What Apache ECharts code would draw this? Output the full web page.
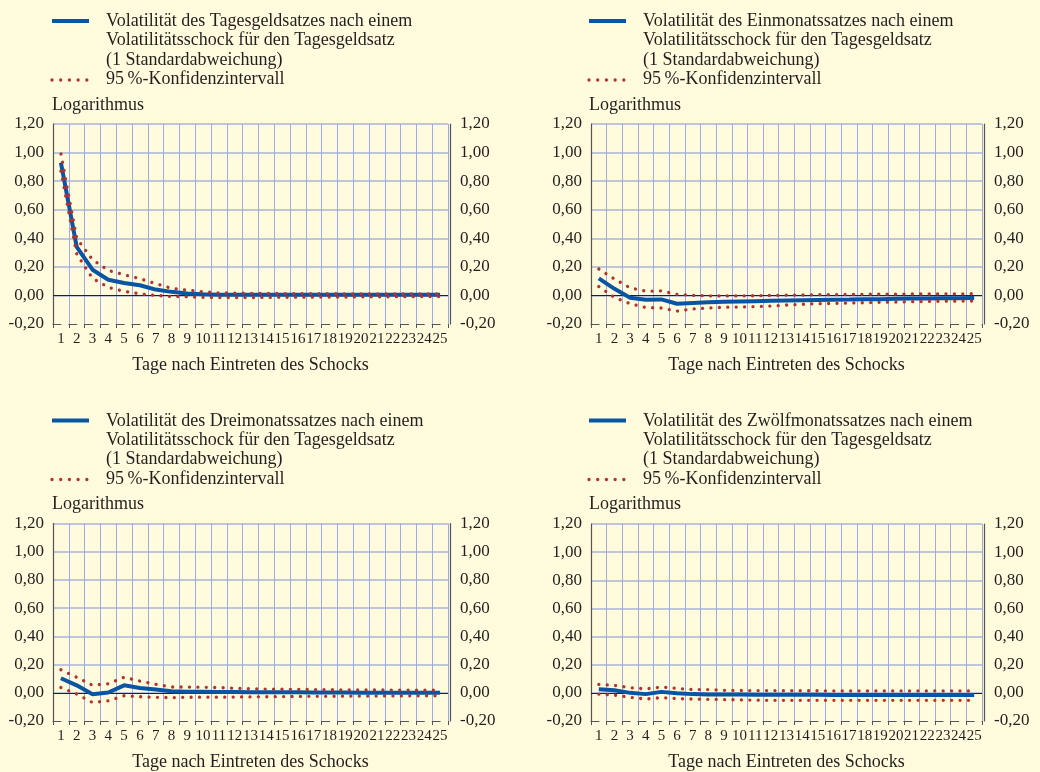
<!DOCTYPE html>
<html>
<head>
<meta charset="utf-8">
<script src="https://cdn.jsdelivr.net/npm/echarts@6/dist/echarts.min.js"></script>
<style>
html,body{margin:0;padding:0;background:#fffbdc;}
#chart{width:1040px;height:772px;}
</style>
</head>
<body>
<div id="chart"></div>
<script>
// ---- data ----
const days = ['1','2','3','4','5','6','7','8','9','10','11','12','13','14','15','16','17','18','19','20','21','22','23','24','25'];
const yTickValues = [-0.2, 0, 0.2, 0.4, 0.6, 0.8, 1.0, 1.2];

const legendTitles = [
  ['Volatilität des Tagesgeldsatzes nach einem', 'Volatilitätsschock für den Tagesgeldsatz', '(1 Standardabweichung)'],
  ['Volatilität des Einmonatssatzes nach einem', 'Volatilitätsschock für den Tagesgeldsatz', '(1 Standardabweichung)'],
  ['Volatilität des Dreimonatssatzes nach einem', 'Volatilitätsschock für den Tagesgeldsatz', '(1 Standardabweichung)'],
  ['Volatilität des Zwölfmonatssatzes nach einem', 'Volatilitätsschock für den Tagesgeldsatz', '(1 Standardabweichung)']
];
const ciLabel = '95\u202F%-Konfidenzintervall';
const unitLabel = 'Logarithmus';
const xTitle = 'Tage nach Eintreten des Schocks';

// Panel 1: Tagesgeldsatz
const main1  = [0.93, 0.34, 0.18, 0.11, 0.087, 0.071, 0.041, 0.025, 0.014, 0.008, 0.005, 0.004, 0.004, 0.004, 0.004, 0.004, 0.004, 0.004, 0.004, 0.004, 0.004, 0.004, 0.004, 0.004, 0.004];
const upper1 = [0.99, 0.40, 0.25, 0.175, 0.145, 0.117, 0.083, 0.05, 0.037, 0.025, 0.018, 0.016, 0.015, 0.014, 0.013, 0.013, 0.012, 0.012, 0.011, 0.011, 0.011, 0.01, 0.01, 0.01, 0.01];
const lower1 = [0.87, 0.29, 0.12, 0.057, 0.028, 0.011, 0.0, -0.007, -0.009, -0.013, -0.015, -0.015, -0.015, -0.014, -0.013, -0.012, -0.012, -0.011, -0.011, -0.01, -0.01, -0.009, -0.009, -0.008, -0.008];

// Panel 2: Einmonatssatz
const main2  = [0.12, 0.046, -0.016, -0.03, -0.028, -0.058, -0.053, -0.048, -0.045, -0.042, -0.04, -0.038, -0.036, -0.034, -0.032, -0.03, -0.029, -0.027, -0.026, -0.023, -0.022, -0.021, -0.02, -0.019, -0.018];
const upper2 = [0.185, 0.115, 0.053, 0.03, 0.032, 0.007, 0.0, -0.003, -0.004, -0.003, -0.002, 0.0, 0.002, 0.003, 0.005, 0.006, 0.007, 0.008, 0.009, 0.009, 0.01, 0.01, 0.011, 0.011, 0.012];
const lower2 = [0.062, -0.014, -0.058, -0.085, -0.088, -0.11, -0.095, -0.088, -0.083, -0.081, -0.078, -0.074, -0.067, -0.062, -0.058, -0.056, -0.053, -0.051, -0.048, -0.046, -0.044, -0.042, -0.04, -0.04, -0.039];

// Panel 3: Dreimonatssatz
const main3  = [0.103, 0.053, -0.011, 0.002, 0.053, 0.034, 0.023, 0.011, 0.008, 0.007, 0.006, 0.005, 0.004, 0.004, 0.003, 0.003, 0.002, 0.002, 0.002, 0.001, 0.001, 0.001, 0.0, 0.0, 0.0];
const upper3 = [0.163, 0.11, 0.053, 0.064, 0.11, 0.083, 0.06, 0.041, 0.041, 0.039, 0.037, 0.032, 0.028, 0.026, 0.025, 0.024, 0.023, 0.022, 0.021, 0.02, 0.02, 0.019, 0.019, 0.018, 0.018];
const lower3 = [0.037, -0.009, -0.069, -0.057, -0.021, -0.028, -0.032, -0.034, -0.032, -0.031, -0.031, -0.03, -0.029, -0.028, -0.027, -0.026, -0.025, -0.025, -0.024, -0.023, -0.023, -0.022, -0.022, -0.021, -0.021];

// Panel 4: Zwölfmonatssatz
const main4  = [0.025, 0.018, 0.0, -0.009, 0.007, -0.002, -0.009, -0.011, -0.012, -0.012, -0.013, -0.013, -0.014, -0.014, -0.014, -0.015, -0.015, -0.015, -0.015, -0.016, -0.016, -0.016, -0.016, -0.016, -0.016];
const upper4 = [0.06, 0.053, 0.037, 0.028, 0.041, 0.032, 0.023, 0.023, 0.018, 0.017, 0.016, 0.016, 0.015, 0.015, 0.015, 0.014, 0.014, 0.014, 0.014, 0.014, 0.014, 0.014, 0.014, 0.014, 0.014];
const lower4 = [-0.009, -0.016, -0.032, -0.044, -0.034, -0.041, -0.044, -0.046, -0.048, -0.05, -0.052, -0.053, -0.053, -0.053, -0.053, -0.053, -0.053, -0.053, -0.053, -0.053, -0.053, -0.053, -0.053, -0.053, -0.053];

const panelData = [
  [main1, upper1, lower1],
  [main2, upper2, lower2],
  [main3, upper3, lower3],
  [main4, upper4, lower4]
];

// ---- layout / style ----
const FONT = '"Liberation Serif", "Times New Roman", serif';
const TEXT = '#231f20';
const BLUE = '#0a55a3';
const RED = '#b5312b';
const AXIS = '#555555';
const HGRID = '#a9b4d8';
const VGRID = '#9eaae8';

const panels = [
  { left: 53,  width: 395, top: 124,   dx: 0,   dy: 0 },
  { left: 591, width: 391, top: 124,   dx: 537, dy: 0 },
  { left: 53,  width: 395, top: 523.5, dx: 0,   dy: 399.5 },
  { left: 591, width: 391, top: 524,   dx: 537, dy: 399.5 }
];
const GRID_H = 200;

function fmt(v) {
  return v.toFixed(2).replace('.', ',');
}

const grid = [], xAxis = [], yAxis = [], series = [], graphic = [];

panels.forEach((p, i) => {
  grid.push({ left: p.left, top: p.top, width: p.width, height: GRID_H, containLabel: false });
  const cw = p.width / days.length;
  xAxis.push({
    type: 'category', gridIndex: i, data: days, boundaryGap: true,
    axisLine: { show: true, onZero: false, lineStyle: { color: AXIS, width: 1, type: [8, cw - 8] } },
    axisTick: { show: true, interval: 0, length: 4, lineStyle: { color: AXIS, width: 1 } },
    axisLabel: { interval: 0, margin: 8, color: TEXT, fontFamily: FONT, fontSize: 15 },
    splitLine: { show: true, interval: 0, lineStyle: { color: VGRID, width: 1 } },
    name: xTitle, nameLocation: 'middle', nameGap: 32,
    nameTextStyle: { color: TEXT, fontFamily: FONT, fontSize: 18 }
  });
  const yCommon = {
    type: 'value', gridIndex: i, min: -0.2, max: 1.2, interval: 0.2,
    axisTick: { show: false },
    axisLabel: { color: TEXT, fontFamily: FONT, fontSize: 17, formatter: fmt },
  };
  yAxis.push(Object.assign({}, yCommon, {
    position: 'left',
    axisLine: { show: true, lineStyle: { color: AXIS, width: 1.2 } },
    axisLabel: Object.assign({}, yCommon.axisLabel, { margin: 9 }),
    splitLine: { show: true, lineStyle: { color: ['rgba(0,0,0,0)', HGRID, HGRID, HGRID, HGRID, HGRID, HGRID, HGRID], width: 1.5 } }
  }));
  yAxis.push(Object.assign({}, yCommon, {
    position: 'right', offset: 2,
    axisLine: { show: true, lineStyle: { color: AXIS, width: 1.2 } },
    axisLabel: Object.assign({}, yCommon.axisLabel, { margin: 10 }),
    splitLine: { show: false }
  }));
  const [m, u, l] = panelData[i];
  series.push({
    type: 'line', xAxisIndex: i, yAxisIndex: 2 * i, data: m,
    symbol: 'none', smooth: false, z: 3,
    lineStyle: { color: BLUE, width: 4 },
    markLine: {
      silent: true, symbol: 'none', label: { show: false },
      lineStyle: { color: '#222', width: 1, type: 'solid' },
      data: [{ yAxis: 0 }], z: 2
    }
  });
  [u, l].forEach(d => {
    series.push({
      type: 'line', xAxisIndex: i, yAxisIndex: 2 * i, data: d,
      symbol: 'none', smooth: false, z: 4,
      lineStyle: { color: RED, width: 3.3, type: [0.01, 8.4], cap: 'round' }
    });
  });

  // legend drawn as graphic
  const lx = 52 + p.dx, ly = p.dy;
  graphic.push({
    type: 'line', shape: { x1: lx, y1: ly + 21, x2: lx + 37, y2: ly + 21 },
    style: { stroke: BLUE, lineWidth: 4 }
  });
  legendTitles[i].forEach((t, k) => {
    graphic.push({
      type: 'text', x: lx + 54, y: ly + 21.5 + k * 19.2,
      style: { text: t, fill: TEXT, font: '18px ' + FONT, textVerticalAlign: 'middle', textAlign: 'left' }
    });
  });
  graphic.push({
    type: 'line', shape: { x1: lx, y1: ly + 80, x2: lx + 36, y2: ly + 80 },
    style: { stroke: RED, lineWidth: 3.3, lineDash: [0.01, 8.7], lineCap: 'round' }
  });
  graphic.push({
    type: 'text', x: lx + 54, y: ly + 79.5,
    style: { text: ciLabel, fill: TEXT, font: '18px ' + FONT, textVerticalAlign: 'middle', textAlign: 'left' }
  });
  graphic.push({
    type: 'text', x: lx, y: ly + 105,
    style: { text: unitLabel, fill: TEXT, font: '18px ' + FONT, textVerticalAlign: 'middle', textAlign: 'left' }
  });
});

const chart = echarts.init(document.getElementById('chart'), null, { renderer: 'canvas' });
chart.setOption({
  backgroundColor: '#fffbdc',
  animation: false,
  textStyle: { fontFamily: FONT },
  grid, xAxis, yAxis, series, graphic
});
</script>
</body>
</html>
